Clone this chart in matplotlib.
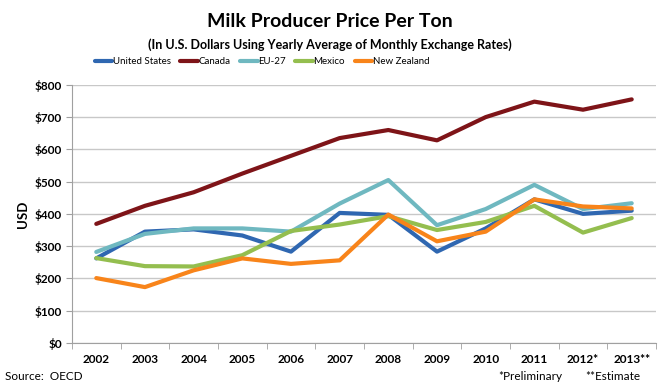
import numpy as np
import matplotlib.pyplot as plt

years = ["2002", "2003", "2004", "2005", "2006", "2007", "2008", "2009",
         "2010", "2011", "2012*", "2013**"]
united_states = [262, 345, 352, 333, 283, 403, 397, 283, 355, 445, 400, 410]
canada = [369, 425, 467, 525, 580, 635, 660, 628, 700, 748, 723, 755]
eu27 = [282, 338, 355, 355, 345, 432, 505, 365, 415, 490, 415, 433]
mexico = [263, 238, 237, 272, 347, 367, 393, 350, 375, 425, 342, 387]
new_zealand = [201, 173, 225, 262, 245, 256, 398, 315, 345, 445, 423, 417]

series = [
    ("United States", united_states, "#2F67B1"),
    ("Canada", canada, "#7E1418"),
    ("EU-27", eu27, "#6FB8C0"),
    ("Mexico", mexico, "#94BE4F"),
    ("New Zealand", new_zealand, "#F8841A"),
]

plt.rcParams['font.family'] = ['Lato', 'DejaVu Sans']

fig = plt.figure(figsize=(6.6, 3.84), dpi=100)
ax = fig.add_axes([0.109, 0.107, 0.885, 0.672])

x = np.arange(len(years))
for name, vals, color in series:
    ax.plot(x, vals, color=color, linewidth=3, label=name, solid_capstyle='round')

ax.set_xlim(-0.5, len(years) - 0.5)
ax.set_ylim(0, 800)
ax.set_yticks(range(0, 801, 100))
ax.set_yticklabels([f"${v}" for v in range(0, 801, 100)], fontsize=8.5, fontweight='bold')
ax.set_xticks(x)
ax.set_xticklabels(years, fontsize=8.5, fontweight='bold')
ax.tick_params(axis='x', which='major', length=0, pad=8)
ax.set_xticks(np.arange(-0.5, len(years), 1), minor=True)
ax.tick_params(axis='x', which='minor', length=4, color='#A0A0A0')
ax.tick_params(axis='y', length=4, color='#A0A0A0', pad=3)

ax.grid(axis='y', color='#C8C8C8', linewidth=1)
ax.set_axisbelow(True)
for s in ['top', 'right']:
    ax.spines[s].set_visible(False)
for s in ['left', 'bottom']:
    ax.spines[s].set_color('#A0A0A0')

ax.set_ylabel("USD", fontsize=9.5, fontweight='bold', labelpad=4)

fig.text(0.5, 0.945, "Milk Producer Price Per Ton", ha='center', va='center',
         fontsize=14, fontweight='bold')
fig.text(0.5, 0.885, "(In U.S. Dollars Using Yearly Average of Monthly Exchange Rates)",
         ha='center', va='center', fontsize=9, fontweight='bold')

fig.legend(loc='center', bbox_to_anchor=(262 / 660, 1 - 62 / 384), ncol=5,
           frameon=False, fontsize=7, handlelength=1.8, handletextpad=0.05,
           columnspacing=1.0)

fig.text(5 / 660, 1 - 380 / 384, "Source:  OECD", fontsize=8.5, va='baseline')
fig.text(498 / 660, 1 - 380 / 384, "*Preliminary", fontsize=8.5, va='baseline')
fig.text(585 / 660, 1 - 380 / 384, "**Estimate", fontsize=8.5, va='baseline')

fig.savefig("out.png", dpi=100)
